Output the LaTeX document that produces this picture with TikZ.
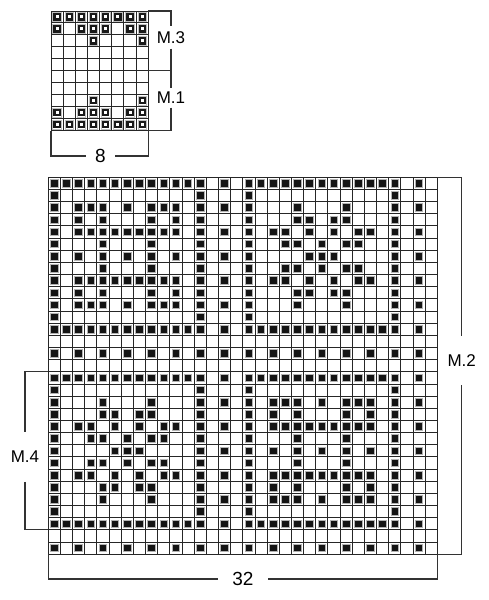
\documentclass[tikz,border=0pt]{standalone}
\usepackage{fontspec}
\setmainfont{Liberation Sans}
\tikzset{
  gridline/.style={draw=black!85,line width=1pt},
  bracket/.style={draw=black!80,line width=1.1pt},
  bigmark/.style={fill=black!92,draw=black!30,line width=1pt},
  smallmark/.style={fill=white,draw=black!90,line width=2.2pt},
  smallhalo/.style={draw=black!25,line width=0.8pt},
  mlabel/.style={inner sep=0pt,font=\fontsize{17}{17}\selectfont,minimum height=22pt},
  numlabel/.style={inner sep=0pt,font=\fontsize{19}{19}\selectfont,minimum width=30pt},
}
\newcommand\bigmarks[2]{\foreach \r in {#1}{\foreach \c in {#2}{%
  \filldraw[bigmark] ({48.3+(\c-0.5)*12.16-3.8},{177.3+(\r-0.5)*12.16-3.8}) rectangle ++(7.6,7.6);}}}
\newcommand\smallmarks[2]{\foreach \r in {#1}{\foreach \c in {#2}{%
  \draw[smallhalo] ({51+(\c-0.5)*12.16-4.2},{11+(\r-0.5)*11.97-4.2}) rectangle ++(8.4,8.4);
  \filldraw[smallmark] ({51+(\c-0.5)*12.16-2.6},{11+(\r-0.5)*11.97-2.6}) rectangle ++(5.2,5.2);}}}
\begin{document}
\begin{tikzpicture}[x=1pt,y=-1pt]
\useasboundingbox (0,0) rectangle (489,600);
\fill[white] (0,0) rectangle (489,600);
% small chart grid
\foreach \i in {0,...,8} \draw[gridline] ({51+\i*12.16},11) -- ({51+\i*12.16},130.7);
\foreach \j in {0,...,10} \draw[gridline] (51,{11+\j*11.97}) -- (148.3,{11+\j*11.97});
\smallmarks{1,10}{1,2,3,4,5,6,7,8}
\smallmarks{2,9}{1,3,4,5,7,8}
\smallmarks{3,8}{4,8}
% big chart grid
\foreach \i in {0,...,32} \draw[gridline] ({48.3+\i*12.16},177.3) -- ({48.3+\i*12.16},{177.3+31*12.16});
\foreach \j in {0,...,31} \draw[gridline] (48.3,{177.3+\j*12.16}) -- ({48.3+32*12.16},{177.3+\j*12.16});
\bigmarks{1,13,17,29}{1,2,3,4,5,6,7,8,9,10,11,12,13,15,17,18,19,20,21,22,23,24,25,26,27,28,29,31}
\bigmarks{2,12,18,28}{1,13,17,29}
\bigmarks{3,11}{1,3,4,5,7,9,10,11,13,15,17,21,25,29,31}
\bigmarks{4,10}{1,3,5,9,11,13,17,21,22,24,25,29}
\bigmarks{5,9}{1,3,4,5,6,7,8,9,10,11,13,15,17,19,20,22,24,26,27,29,31}
\bigmarks{6,8}{1,5,9,13,17,20,21,23,25,26,29}
\bigmarks{7}{1,3,5,7,9,11,13,15,17,22,23,24,29,31}
\bigmarks{15,31}{1,3,5,7,9,11,13,15,17,19,21,23,25,27,29,31}
\bigmarks{19,27}{1,5,9,13,15,17,19,20,21,23,25,26,27,29,31}
\bigmarks{20,26}{1,5,6,8,9,13,17,19,21,25,27,29}
\bigmarks{21,25}{1,3,4,6,8,10,11,13,15,17,19,20,21,22,23,24,25,26,27,29,31}
\bigmarks{22,24}{1,4,5,7,9,10,13,17,21,25,29}
\bigmarks{23}{1,6,7,8,13,15,17,19,21,23,25,27,29,31}
% coordinates
\coordinate (sTR) at (148.3,11);
\coordinate (sMR) at (148.3,70.85);
\coordinate (sBR) at (148.3,130.7);
\coordinate (sBL) at (51,130.7);
\coordinate (bTR) at (437.4,177.3);
\coordinate (bBR) at (437.4,554.3);
\coordinate (bBL) at (48.3,554.3);
\coordinate (b16) at (48.3,371.9);
\coordinate (b29) at (48.3,529.9);
% labels
\node[mlabel] (m3) at (171,37.5) {M.3};
\node[mlabel,minimum height=19pt] (m1) at (171,97.8) {M.1};
\node[mlabel,minimum height=49pt] (m2) at (461.7,360.4) {M.2};
\node[mlabel,minimum height=50pt] (m4) at (25,456.7) {M.4};
\node[numlabel,minimum width=29pt] (n8) at (100.3,156) {8};
\node[numlabel,minimum width=50pt] (n32) at (243,579) {32};
% brackets
\draw[bracket] (sTR) -- (sTR -| m3.north) -- (m3.north);
\draw[bracket] (m3.south) -- (m3.south |- sMR) -- (sMR);
\draw[bracket] (m1.north |- sMR) -- (m1.north);
\draw[bracket] (m1.south) -- (m1.south |- sBR) -- (sBR);
\draw[bracket] (sBL) -- (sBL |- n8.west) -- (n8.west);
\draw[bracket] (n8.east) -- (sBR |- n8.east) -- (sBR);
\draw[bracket] (bTR) -- (bTR -| m2.north) -- (m2.north);
\draw[bracket] (m2.south) -- (m2.south |- bBR) -- (bBR);
\draw[bracket] (b16) -- (b16 -| m4.north) -- (m4.north);
\draw[bracket] (m4.south) -- (m4.south |- b29) -- (b29);
\draw[bracket] (bBL) -- (bBL |- n32.west) -- (n32.west);
\draw[bracket] (n32.east) -- (bBR |- n32.east) -- (bBR);
\end{tikzpicture}
\end{document}
